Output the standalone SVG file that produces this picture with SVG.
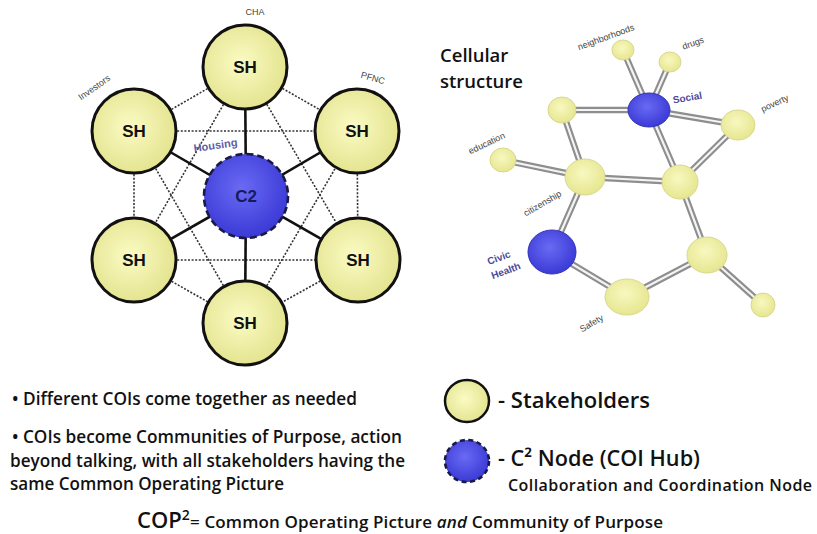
<svg xmlns="http://www.w3.org/2000/svg" width="817" height="534" viewBox="0 0 817 534">
<defs>
<radialGradient id="gy" cx="0.45" cy="0.45" r="0.6">
<stop offset="0" stop-color="#fbfbc4"/>
<stop offset="1" stop-color="#e2e28c"/>
</radialGradient>
<radialGradient id="gb" cx="0.45" cy="0.4" r="0.6">
<stop offset="0" stop-color="#6a6af4"/>
<stop offset="1" stop-color="#3a3ad6"/>
</radialGradient>
<radialGradient id="gy2" cx="0.45" cy="0.4" r="0.6">
<stop offset="0" stop-color="#f8f8c0"/>
<stop offset="1" stop-color="#e6e690"/>
</radialGradient>
</defs>
<style>
.dot{stroke:#333;stroke-width:1.6;stroke-dasharray:2 1.6;fill:none}
.sol{stroke:#111;stroke-width:2.6;fill:none}
.sh{fill:url(#gy);stroke:#111;stroke-width:3}
.c2{fill:url(#gb);stroke:#1a1a44;stroke-width:2.6;stroke-dasharray:7 4}
.lbl{font-family:"Liberation Sans",Arial,sans-serif;font-weight:bold;font-size:17px;text-anchor:middle;fill:#111}
.sm{font-family:"Liberation Sans",Arial,sans-serif;font-size:9px;fill:#444}
.blu{font-family:"Liberation Sans",Arial,sans-serif;font-weight:bold;font-size:10px;fill:#4a4a9a}
.tubeo{stroke:#8e8e8e;stroke-width:6.5;stroke-linecap:round}
.tubei{stroke:#f4f4f4;stroke-width:2.2;stroke-linecap:round}
.cy{fill:url(#gy2);stroke:#d8d890;stroke-width:1}
.cb{fill:url(#gb);stroke:#3434b8;stroke-width:1}
.txt{font-family:"Open Sans","Liberation Sans",sans-serif;font-weight:600;fill:#111}
</style>
<rect width="817" height="534" fill="#fff"/>

<g id="left-connectors">
<line class="dot" x1="245" y1="67" x2="134" y2="131"/>
<line class="dot" x1="245" y1="67" x2="357" y2="131"/>
<line class="dot" x1="134" y1="131" x2="134" y2="260"/>
<line class="dot" x1="357" y1="131" x2="358" y2="260"/>
<line class="dot" x1="134" y1="260" x2="245" y2="323"/>
<line class="dot" x1="358" y1="260" x2="245" y2="323"/>
<line class="dot" x1="134" y1="131" x2="357" y2="131"/>
<line class="dot" x1="134" y1="260" x2="358" y2="260"/>
<line class="dot" x1="245" y1="67" x2="134" y2="260"/>
<line class="dot" x1="245" y1="67" x2="358" y2="260"/>
<line class="dot" x1="245" y1="323" x2="134" y2="131"/>
<line class="dot" x1="245" y1="323" x2="357" y2="131"/>
<line class="sol" x1="246" y1="196" x2="245" y2="67"/>
<line class="sol" x1="246" y1="196" x2="134" y2="131"/>
<line class="sol" x1="246" y1="196" x2="357" y2="131"/>
<line class="sol" x1="246" y1="196" x2="134" y2="260"/>
<line class="sol" x1="246" y1="196" x2="358" y2="260"/>
<line class="sol" x1="246" y1="196" x2="245" y2="323"/>
</g>

<g id="sh-top"><circle class="sh" cx="245" cy="67" r="42"/><text class="lbl" x="245" y="73">SH</text></g>
<g id="sh-ul"><circle class="sh" cx="134" cy="131" r="42"/><text class="lbl" x="134" y="137">SH</text></g>
<g id="sh-ur"><circle class="sh" cx="357" cy="131" r="42"/><text class="lbl" x="357" y="137">SH</text></g>
<g id="sh-ll"><circle class="sh" cx="134" cy="260" r="42"/><text class="lbl" x="134" y="266">SH</text></g>
<g id="sh-lr"><circle class="sh" cx="358" cy="260" r="42"/><text class="lbl" x="358" y="266">SH</text></g>
<g id="sh-b"><circle class="sh" cx="245" cy="323" r="42"/><text class="lbl" x="245" y="329">SH</text></g>
<g id="c2"><circle class="c2" cx="246" cy="196" r="42"/><text class="lbl" x="246" y="202" style="fill:#1a1a5a">C2</text></g>

<text class="sm" x="255" y="15" text-anchor="middle">CHA</text>
<text class="sm" transform="translate(96,90) rotate(-35)" text-anchor="middle">Investors</text>
<text class="sm" transform="translate(372,81) rotate(16)" text-anchor="middle">PFNC</text>
<text class="blu" transform="translate(216,149) rotate(-8)" text-anchor="middle" style="font-size:11px;fill:#6060a8">Housing</text>

<text class="txt" x="440" y="62" style="font-size:18.5px">Cellular</text>
<text class="txt" x="440" y="88" style="font-size:18.5px">structure</text>

<g id="right-connectors">
<g class="tubeo">
<line x1="623" y1="50" x2="649" y2="110"/>
<line x1="670" y1="62" x2="649" y2="110"/>
<line x1="562" y1="110" x2="649" y2="110"/>
<line x1="649" y1="110" x2="738" y2="125"/>
<line x1="649" y1="110" x2="680" y2="182"/>
<line x1="738" y1="125" x2="680" y2="182"/>
<line x1="562" y1="110" x2="585" y2="177"/>
<line x1="503" y1="160" x2="585" y2="177"/>
<line x1="585" y1="177" x2="680" y2="182"/>
<line x1="585" y1="177" x2="552" y2="252"/>
<line x1="680" y1="182" x2="707" y2="255"/>
<line x1="552" y1="252" x2="627" y2="297"/>
<line x1="627" y1="297" x2="707" y2="255"/>
<line x1="707" y1="255" x2="763" y2="305"/>
</g>
<g class="tubei">
<line x1="623" y1="50" x2="649" y2="110"/>
<line x1="670" y1="62" x2="649" y2="110"/>
<line x1="562" y1="110" x2="649" y2="110"/>
<line x1="649" y1="110" x2="738" y2="125"/>
<line x1="649" y1="110" x2="680" y2="182"/>
<line x1="738" y1="125" x2="680" y2="182"/>
<line x1="562" y1="110" x2="585" y2="177"/>
<line x1="503" y1="160" x2="585" y2="177"/>
<line x1="585" y1="177" x2="680" y2="182"/>
<line x1="585" y1="177" x2="552" y2="252"/>
<line x1="680" y1="182" x2="707" y2="255"/>
<line x1="552" y1="252" x2="627" y2="297"/>
<line x1="627" y1="297" x2="707" y2="255"/>
<line x1="707" y1="255" x2="763" y2="305"/>
</g>
</g>

<g id="n-neighborhoods"><ellipse class="cy" cx="623" cy="50" rx="11" ry="10"/></g>
<g id="n-drugs"><ellipse class="cy" cx="670" cy="62" rx="11" ry="10"/></g>
<g id="n-social"><ellipse class="cb" cx="649" cy="110" rx="21" ry="17"/></g>
<g id="n-upper"><ellipse class="cy" cx="562" cy="110" rx="14" ry="13"/></g>
<g id="n-poverty"><ellipse class="cy" cx="738" cy="125" rx="17" ry="15"/></g>
<g id="n-education"><ellipse class="cy" cx="503" cy="160" rx="13" ry="12"/></g>
<g id="n-citizenship"><ellipse class="cy" cx="585" cy="177" rx="20" ry="18"/></g>
<g id="n-mid"><ellipse class="cy" cx="680" cy="182" rx="18" ry="17"/></g>
<g id="n-civic"><ellipse class="cb" cx="552" cy="252" rx="24" ry="22"/></g>
<g id="n-lower"><ellipse class="cy" cx="707" cy="255" rx="20" ry="18"/></g>
<g id="n-safety"><ellipse class="cy" cx="627" cy="297" rx="22" ry="18"/></g>
<g id="n-far"><ellipse class="cy" cx="763" cy="305" rx="12" ry="12"/></g>

<text class="sm" transform="translate(607,40) rotate(-20)" text-anchor="middle">neighborhoods</text>
<text class="sm" transform="translate(694,46) rotate(-20)" text-anchor="middle">drugs</text>
<text class="blu" transform="translate(688,101) rotate(-10)" text-anchor="middle">Social</text>
<text class="sm" transform="translate(776,106) rotate(-25)" text-anchor="middle">poverty</text>
<text class="sm" transform="translate(488,146) rotate(-25)" text-anchor="middle">education</text>
<text class="sm" transform="translate(544,206) rotate(-30)" text-anchor="middle">citizenship</text>
<text class="blu" transform="translate(500,261) rotate(-20)" text-anchor="middle">Civic</text>
<text class="blu" transform="translate(507,274) rotate(-20)" text-anchor="middle">Health</text>
<text class="sm" transform="translate(593,326) rotate(-30)" text-anchor="middle">Safety</text>

<g id="legend">
<ellipse class="sh" cx="467" cy="401" rx="22" ry="21" style="stroke-width:2.5"/>
<text class="txt" x="498" y="408" style="font-size:21.5px" textLength="152" lengthAdjust="spacingAndGlyphs">- Stakeholders</text>
<ellipse class="c2" cx="467" cy="461" rx="22" ry="21" style="stroke-dasharray:5 3.5"/>
<text class="txt" x="498" y="466" style="font-size:21.5px" textLength="202" lengthAdjust="spacingAndGlyphs">- C² Node (COI Hub)</text>
<text class="txt" x="508" y="491" style="font-size:16px" textLength="304" lengthAdjust="spacing">Collaboration and Coordination Node</text>
</g>

<text class="txt" x="12" y="405" style="font-size:17.5px" textLength="345" lengthAdjust="spacingAndGlyphs">• Different COIs come together as needed</text>
<text class="txt" x="12" y="443" style="font-size:17.5px" textLength="390" lengthAdjust="spacingAndGlyphs">• COIs become Communities of Purpose, action</text>
<text class="txt" x="10" y="467" style="font-size:17.5px" textLength="395" lengthAdjust="spacingAndGlyphs">beyond talking, with all stakeholders having the</text>
<text class="txt" x="10" y="490" style="font-size:17.5px" textLength="274" lengthAdjust="spacingAndGlyphs">same Common Operating Picture</text>
<text class="txt" x="137" y="528" style="font-size:22px">COP<tspan dy="-8" style="font-size:14px">2</tspan></text>
<text class="txt" x="190" y="528" style="font-size:17px" textLength="473" lengthAdjust="spacing">= Common Operating Picture <tspan style="font-style:italic">and</tspan> Community of Purpose</text>
</svg>
